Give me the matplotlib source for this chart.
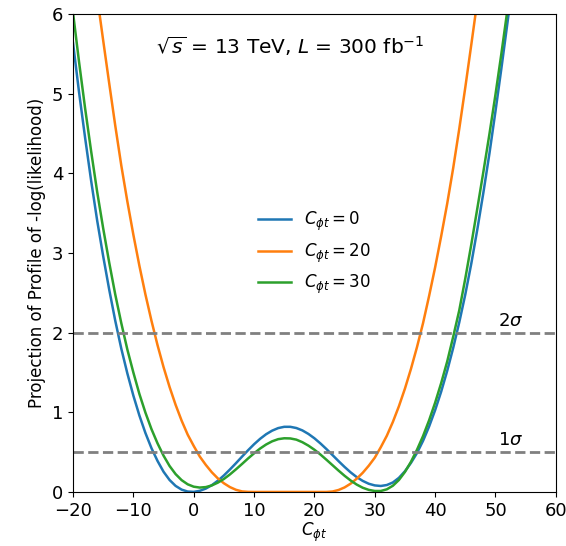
import numpy as np
import matplotlib
matplotlib.use('Agg')
import matplotlib.pyplot as plt

# values, one per integer C_phi_t
x_blue = np.arange(-20, 54)
y_blue = [5.64, 5.02, 4.45, 3.91, 3.41, 2.96, 2.54, 2.15, 1.80, 1.49,
          1.21, 0.96, 0.74, 0.55, 0.39, 0.254, 0.150, 0.076, 0.029, 0.005,
          0.001, 0.014, 0.042, 0.085, 0.141, 0.207, 0.282, 0.361, 0.443, 0.523,
          0.599, 0.667, 0.725, 0.770, 0.802, 0.818, 0.818, 0.803, 0.773, 0.729,
          0.674, 0.609, 0.538, 0.463, 0.387, 0.314, 0.246, 0.187, 0.139, 0.103,
          0.082, 0.075, 0.087, 0.119, 0.177, 0.26, 0.365, 0.489, 0.642, 0.821,
          1.027, 1.259, 1.52, 1.81, 2.13, 2.48, 2.87, 3.30, 3.76, 4.25,
          4.78, 5.33, 5.90, 6.48]

x_orange = np.arange(-17, 49)
y_orange = [6.78, 6.22, 5.67, 5.13, 4.60, 4.10, 3.65, 3.23, 2.84, 2.48,
            2.15, 1.845, 1.568, 1.318, 1.094, 0.895, 0.72, 0.578, 0.445, 0.34,
            0.247, 0.17, 0.109, 0.061, 0.027, 0.0068, 0.001, 0.0, 0.0, 0.0,
            0.0, 0.0, 0.0, 0.0, 0.0, 0.0, 0.0, 0.0, 0.0, 0.0,
            0.0055, 0.0246, 0.057, 0.104, 0.166, 0.24, 0.329, 0.43, 0.562, 0.706,
            0.879, 1.076, 1.298, 1.546, 1.82, 2.12, 2.46, 2.82, 3.21, 3.62,
            4.07, 4.56, 5.08, 5.62, 6.17, 6.73]

x_green = np.arange(-20, 53)
y_green = [6.02, 5.40, 4.82, 4.28, 3.77, 3.31, 2.88, 2.48, 2.12, 1.79,
           1.50, 1.23, 0.996, 0.789, 0.611, 0.456, 0.326, 0.224, 0.148, 0.096,
           0.066, 0.055, 0.061, 0.082, 0.117, 0.163, 0.220, 0.284, 0.351, 0.420,
           0.485, 0.545, 0.596, 0.636, 0.663, 0.674, 0.672, 0.657, 0.625, 0.582,
           0.530, 0.470, 0.404, 0.336, 0.268, 0.203, 0.144, 0.093, 0.053, 0.026,
           0.012, 0.012, 0.033, 0.078, 0.150, 0.251, 0.379, 0.530, 0.702, 0.899,
           1.12, 1.366, 1.637, 1.95, 2.28, 2.68, 3.11, 3.563, 4.022, 4.494,
           4.99, 5.515, 6.065]

labels = [r'$C_{\phi t} = 0$', r'$C_{\phi t} = 20$', r'$C_{\phi t} = 30$']
sigma_levels = [0.5, 2.0]
sigma_labels = [r'1$\sigma$', r'2$\sigma$']

fig = plt.figure(figsize=(5.66, 5.46), dpi=100)
ax = fig.add_axes([0.129, 0.099, 0.853, 0.875])

ax.plot(x_blue, y_blue, color='#1f77b4', lw=1.8, label=labels[0])
ax.plot(x_orange, y_orange, color='#ff7f0e', lw=1.8, label=labels[1])
ax.plot(x_green, y_green, color='#2ca02c', lw=1.8, label=labels[2])

for lev, lab in zip(sigma_levels, sigma_labels):
    ax.axhline(lev, color='gray', ls='--', lw=2)
    ax.text(52.5, lev + 0.15, lab, fontsize=13, ha='center', va='center')

ax.text(16, 5.6, r'$\sqrt{s}$ = 13 TeV, $L$ = 300 fb$^{-1}$', fontsize=14.5,
        ha='center', va='center')

ax.set_xlim(-20, 60)
ax.set_ylim(0, 6)
ax.set_xlabel(r'$C_{\phi t}$', fontsize=12, labelpad=1)
ax.set_ylabel('Projection of Profile of -log(likelihood)', fontsize=12)
ax.tick_params(labelsize=13)
ax.legend(loc='center', frameon=False, fontsize=12)

fig.savefig('out.png', dpi=100)
